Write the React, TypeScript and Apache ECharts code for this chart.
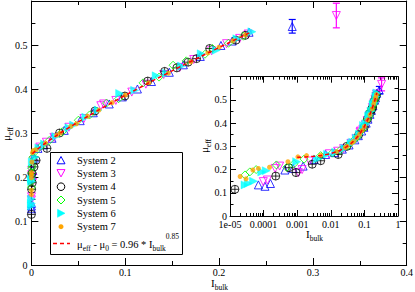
import React, { useEffect, useRef } from 'react';
import * as echarts from 'echarts';

const mainXTicks = ['0', '0.1', '0.2', '0.3', '0.4'];
const mainYTicks = ['0', '0.1', '0.2', '0.3', '0.4', '0.5', ''];
const insetXTicks = ['1e-05', '0.0001', '0.001', '0.01', '0.1', '1'];
const insetYTicks = ['0', '0.1', '0.2', '0.3', '0.4', '0.5', ''];

const legendNames = ['System 2', 'System 3', 'System 4', 'System 5', 'System 6', 'System 7'];

const system2 = [
  [7e-5, 0.134], [1.1e-4, 0.128], [1.6e-4, 0.14], [4.3e-4, 0.198], [7.6e-4, 0.205], [1.5e-3, 0.215], [3.2e-3, 0.243],
  [0.007, 0.265], [0.013, 0.273], [0.022, 0.288], [0.035, 0.306], [0.052, 0.328], [0.066, 0.346], [0.083, 0.366],
  [0.097, 0.382], [0.113, 0.4], [0.128, 0.417], [0.147, 0.438], [0.162, 0.455], [0.18, 0.474], [0.202, 0.499],
  [0.214, 0.509], [0.232, 0.529], [0.278, 0.542],
];
const system3 = [
  [9.8e-5, 0.148], [1.3e-4, 0.155], [2.2e-4, 0.205], [3e-4, 0.215], [1.08e-3, 0.187], [1.4e-3, 0.2], [2.3e-3, 0.237],
  [0.009, 0.268], [0.016, 0.279], [0.024, 0.29], [0.04, 0.313], [0.056, 0.333], [0.074, 0.362], [0.077, 0.366],
  [0.09, 0.374], [0.107, 0.393], [0.122, 0.411], [0.141, 0.433], [0.158, 0.449], [0.173, 0.467], [0.192, 0.487],
  [0.208, 0.503], [0.222, 0.515], [0.231, 0.525], [0.325, 0.567],
];
const system4 = [
  [1.4e-5, 0.115], [2.3e-4, 0.172], [5.7e-4, 0.208], [9.2e-4, 0.187], [2.8e-3, 0.223], [5e-3, 0.238],
  [0.0166, 0.265], [0.03, 0.3], [0.0677, 0.35], [0.0996, 0.384], [0.124, 0.418], [0.142, 0.44], [0.155, 0.448],
  [0.167, 0.461], [0.176, 0.469], [0.19, 0.492], [0.218, 0.511], [0.228, 0.522],
];
const system5 = [
  [2.8e-5, 0.177], [3.9e-5, 0.19], [6e-5, 0.2], [2.4e-4, 0.22], [4.9e-4, 0.21], [8e-4, 0.225], [1.6e-3, 0.245],
  [0.005, 0.26], [0.011, 0.271], [0.019, 0.283], [0.033, 0.303], [0.05, 0.329], [0.062, 0.341], [0.08, 0.368],
  [0.093, 0.378], [0.119, 0.414], [0.136, 0.427], [0.151, 0.454], [0.165, 0.464], [0.185, 0.479], [0.193, 0.492],
  [0.21, 0.504], [0.226, 0.52],
];
const system6 = [
  [2.8e-5, 0.134], [3.5e-5, 0.14], [5e-5, 0.15], [8.8e-5, 0.19], [1.2e-4, 0.195], [9.6e-4, 0.234], [4e-3, 0.245],
  [0.008, 0.266], [0.014, 0.275], [0.026, 0.292], [0.04, 0.312], [0.045, 0.318], [0.058, 0.336], [0.071, 0.352],
  [0.094, 0.39], [0.11, 0.397], [0.133, 0.43], [0.144, 0.436], [0.16, 0.452], [0.181, 0.48], [0.197, 0.488],
  [0.219, 0.514], [0.235, 0.53],
];
const system7 = [
  [2e-5, 0.17], [3e-5, 0.16], [4.8e-5, 0.198], [7e-5, 0.205], [1.5e-4, 0.21], [5.3e-4, 0.234], [1.05e-3, 0.255],
  [1.9e-3, 0.26], [0.005, 0.262], [0.015, 0.277], [0.027, 0.295], [0.031, 0.3], [0.042, 0.315], [0.048, 0.321],
  [0.06, 0.338], [0.072, 0.352], [0.086, 0.369], [0.1, 0.386], [0.125, 0.414], [0.146, 0.436], [0.17, 0.462],
  [0.188, 0.482], [0.2, 0.495], [0.215, 0.51], [0.228, 0.523],
];
const fitLine = [
  [0.001, 0.2527], [0.002, 0.2549], [0.003, 0.2569], [0.005, 0.2606], [0.008, 0.2659], [0.01, 0.2692],
  [0.015, 0.277], [0.02, 0.2845], [0.03, 0.2988], [0.04, 0.3123], [0.05, 0.3252], [0.07, 0.3502],
  [0.1, 0.3856], [0.13, 0.4195], [0.16, 0.4522], [0.2, 0.4944], [0.235, 0.5303],
];
const errors2 = [[0.278, 0.527, 0.558]];
const errors3 = [[0.325, 0.539, 0.595]];

const FONT = "'Liberation Serif', 'DejaVu Serif', serif";
const BLUE = '#0000ff';
const MAGENTA = '#ff00ff';
const GREEN = '#00ff00';
const CYAN = '#00ffff';
const ORANGE = '#ffa500';
const RED = '#ff0000';
const CIRCLE_PLUS = 'path://M1,10 A9,9 0 1,1 19,10 A9,9 0 1,1 1,10 Z M1,10 L19,10 M10,1 L10,19';

const minorLogTicks: number[] = [];
for (let n = -5; n < 0; n++) {
  for (let k = 2; k <= 9; k++) minorLogTicks.push(n + Math.log10(k));
}

function makeRich(base: number) {
  return {
    n: { fontSize: base, lineHeight: 22, fontFamily: FONT, color: '#000' },
    s: { fontSize: 7.5, lineHeight: 13, height: 13, verticalAlign: 'bottom', fontFamily: FONT, color: '#000' },
    p: { fontSize: 7.5, lineHeight: 7, height: 7, verticalAlign: 'top', fontFamily: FONT, color: '#000' },
  };
}
const richSub = makeRich(11);
const richLegend = makeRich(10.5);

function scatterStyles() {
  return [
    { symbol: 'triangle', symbolSize: 8, symbolRotate: 0, itemStyle: { color: 'transparent', borderColor: BLUE, borderWidth: 1 } },
    { symbol: 'triangle', symbolSize: 8, symbolRotate: 180, itemStyle: { color: 'transparent', borderColor: MAGENTA, borderWidth: 1 } },
    { symbol: CIRCLE_PLUS, symbolSize: 8, symbolRotate: 0, itemStyle: { color: 'transparent', borderColor: '#000', borderWidth: 1 } },
    { symbol: 'diamond', symbolSize: 8, symbolRotate: 0, itemStyle: { color: 'transparent', borderColor: GREEN, borderWidth: 1 } },
    { symbol: 'triangle', symbolSize: 8, symbolRotate: -90, itemStyle: { color: CYAN, borderColor: CYAN, borderWidth: 0.5 } },
    { symbol: 'circle', symbolSize: 5, symbolRotate: 0, itemStyle: { color: ORANGE, borderWidth: 0 } },
  ];
}

function errorSeries(data: number[][], color: string, xi: number, yi: number) {
  return {
    type: 'custom',
    xAxisIndex: xi,
    yAxisIndex: yi,
    data,
    encode: { x: 0, y: [1, 2] },
    silent: true,
    z: 1,
    renderItem: (_p: any, api: any) => {
      const x = api.value(0);
      const a = api.coord([x, api.value(1)]);
      const b = api.coord([x, api.value(2)]);
      const w = 3.5;
      const st = { stroke: color, lineWidth: 1.2 };
      return {
        type: 'group',
        children: [
          { type: 'line', shape: { x1: a[0], y1: a[1], x2: b[0], y2: b[1] }, style: st },
          { type: 'line', shape: { x1: a[0] - w, y1: a[1], x2: a[0] + w, y2: a[1] }, style: st },
          { type: 'line', shape: { x1: b[0] - w, y1: b[1], x2: b[0] + w, y2: b[1] }, style: st },
        ],
      };
    },
  };
}

function buildSeries(xi: number, yi: number) {
  const datasets = [system2, system3, system4, system5, system6, system7];
  const styles = scatterStyles();
  const out: any[] = [];
  out.push(errorSeries(errors2, BLUE, xi, yi));
  out.push(errorSeries(errors3, MAGENTA, xi, yi));
  datasets.forEach((d, i) => {
    out.push({
      type: 'scatter',
      name: legendNames[i],
      xAxisIndex: xi,
      yAxisIndex: yi,
      data: d,
      symbol: styles[i].symbol,
      symbolSize: styles[i].symbolSize,
      symbolRotate: styles[i].symbolRotate,
      itemStyle: styles[i].itemStyle,
      silent: true,
      z: 2 + i * 0.01,
    });
  });
  out.push({
    type: 'line',
    name: 'fit',
    xAxisIndex: xi,
    yAxisIndex: yi,
    data: fitLine,
    symbol: 'none',
    showSymbol: false,
    silent: true,
    lineStyle: { color: RED, width: 1.5, type: [4, 3] },
    z: 3,
  });
  return out;
}

const labelStyle = { color: '#000', fontSize: 10, fontFamily: FONT };

function linearAxis(grid: number, position: string, min: number, max: number, showLabel: boolean, ticks: string[], major: number, minor: number, margin: number) {
  return {
    type: 'value',
    gridIndex: grid,
    position,
    min,
    max,
    interval: 0.1,
    axisLine: { show: true, onZero: false, lineStyle: { color: '#000', width: 1 } },
    axisTick: { show: true, inside: true, length: major, lineStyle: { color: '#000', width: 1 } },
    minorTick: { show: true, splitNumber: 2, length: minor, lineStyle: { color: '#000', width: 1 } },
    splitLine: { show: false },
    minorSplitLine: { show: false },
    axisLabel: {
      show: showLabel,
      margin,
      ...labelStyle,
      formatter: (v: number) => ticks[Math.round(v * 10)] ?? '',
    },
  };
}

function logAxis(position: string, showLabel: boolean) {
  return {
    type: 'log',
    logBase: 10,
    gridIndex: 1,
    position,
    min: 1e-5,
    max: 1,
    axisLine: { show: true, onZero: false, lineStyle: { color: '#000', width: 1 } },
    axisTick: { show: true, inside: true, length: 6, lineStyle: { color: '#000', width: 1 } },
    splitLine: { show: false },
    axisLabel: {
      show: showLabel,
      margin: 3,
      ...labelStyle,
      formatter: (v: number) => insetXTicks[Math.round(Math.log10(v)) + 5] ?? '',
    },
  };
}

function minorLogAxis(position: string) {
  return {
    type: 'value',
    gridIndex: 1,
    position,
    min: -5,
    max: 0,
    axisLine: { show: false, onZero: false },
    axisTick: { show: true, inside: true, length: 3, customValues: minorLogTicks, lineStyle: { color: '#000', width: 1 } },
    splitLine: { show: false },
    axisLabel: { show: false },
  };
}

function rotatedName(x: number, y: number) {
  return {
    type: 'group', x, y, rotation: Math.PI / 2, z: 50,
    children: [
      { type: 'text', x: 0, y: 0, z: 50, style: { text: '{n|μ}{s|eff}', align: 'center', verticalAlign: 'middle', rich: richSub } },
    ],
  };
}

export default function App() {
  const ref = useRef<HTMLDivElement>(null);
  useEffect(() => {
    if (!ref.current) return;
    const chart = echarts.init(ref.current, undefined, { renderer: 'svg' });
    const legendY = [160, 173.3, 186.7, 200, 213.3, 226.7];
    const legendGraphics: any[] = [
      { type: 'rect', shape: { x: 50.5, y: 152.5, width: 132, height: 102 }, style: { fill: '#fff', stroke: '#000', lineWidth: 1 }, z: 100 },
      { type: 'polygon', shape: { points: [[57, 163.8], [61, 156.5], [65, 163.8]] }, style: { fill: 'none', stroke: BLUE, lineWidth: 1 }, z: 101 },
      { type: 'polygon', shape: { points: [[57, 169.6], [65, 169.6], [61, 176.9]] }, style: { fill: 'none', stroke: MAGENTA, lineWidth: 1 }, z: 101 },
      { type: 'circle', shape: { cx: 61, cy: 186.7, r: 3.8 }, style: { fill: 'none', stroke: '#000', lineWidth: 1 }, z: 101 },
      { type: 'polygon', shape: { points: [[61, 196], [65, 200], [61, 204], [57, 200]] }, style: { fill: 'none', stroke: GREEN, lineWidth: 1 }, z: 101 },
      { type: 'polygon', shape: { points: [[57.5, 209.3], [65, 213.3], [57.5, 217.3]] }, style: { fill: CYAN, stroke: CYAN, lineWidth: 0.5 }, z: 101 },
      { type: 'circle', shape: { cx: 61, cy: 226.7, r: 2.5 }, style: { fill: ORANGE }, z: 101 },
      { type: 'line', shape: { x1: 53, y1: 243.5, x2: 70, y2: 243.5 }, style: { stroke: RED, lineWidth: 1.5, lineDash: [4, 3] }, z: 101 },
    ];
    legendNames.forEach((n, i) => {
      legendGraphics.push({
        type: 'text', x: 77, y: legendY[i], z: 101,
        style: { text: n, fontSize: 10.5, fontFamily: FONT, fill: '#000', align: 'left', verticalAlign: 'middle' },
      });
    });
    legendGraphics.push({
      type: 'text', x: 77, y: 244, z: 101,
      style: {
        text: '{n|μ}{s|eff}{n| - μ}{s|0}{n| = 0.96 * I}{s|bulk}{p|0.85}',
        align: 'left', verticalAlign: 'middle', rich: richLegend,
      },
    });
    const nameGraphics: any[] = [
      { type: 'text', x: 219.5, y: 283, z: 50, style: { text: '{n|I}{s|bulk}', align: 'center', verticalAlign: 'middle', rich: richSub } },
      { type: 'text', x: 314.5, y: 234, z: 50, style: { text: '{n|I}{s|bulk}', align: 'center', verticalAlign: 'middle', rich: richSub } },
      rotatedName(6, 134),
      rotatedName(204, 146),
    ];

    const option: any = {
      animation: false,
      backgroundColor: '#fff',
      textStyle: { fontFamily: FONT },
      grid: [
        { left: 31.4, right: 8.3, top: 1, bottom: 27, outerBoundsMode: 'none', containLabel: false },
        { left: 230, right: 17, top: 76.7, bottom: 76, show: true, backgroundColor: '#fff', borderWidth: 0, outerBoundsMode: 'none', containLabel: false },
      ],
      xAxis: [
        linearAxis(0, 'bottom', 0, 0.4, true, mainXTicks, 7, 4, 2),
        linearAxis(0, 'top', 0, 0.4, false, mainXTicks, 7, 4, 2),
        logAxis('bottom', true),
        logAxis('top', false),
        minorLogAxis('top'),
        minorLogAxis('bottom'),
      ],
      yAxis: [
        linearAxis(0, 'left', 0, 0.6, true, mainYTicks, 7, 4, 4),
        linearAxis(0, 'right', 0, 0.6, false, mainYTicks, 7, 4, 4),
        linearAxis(1, 'left', 0, 0.6, true, insetYTicks, 6, 3.5, 3),
        linearAxis(1, 'right', 0, 0.6, false, insetYTicks, 6, 3.5, 3),
      ],
      series: [...buildSeries(0, 0), ...buildSeries(2, 2)],
      graphic: { elements: [...legendGraphics, ...nameGraphics] },
    };
    chart.setOption(option);
    return () => chart.dispose();
  }, []);
  return <div ref={ref} style={{ position: 'fixed', left: 0, top: 0, width: 415, height: 292, background: '#fff' }} />;
}
